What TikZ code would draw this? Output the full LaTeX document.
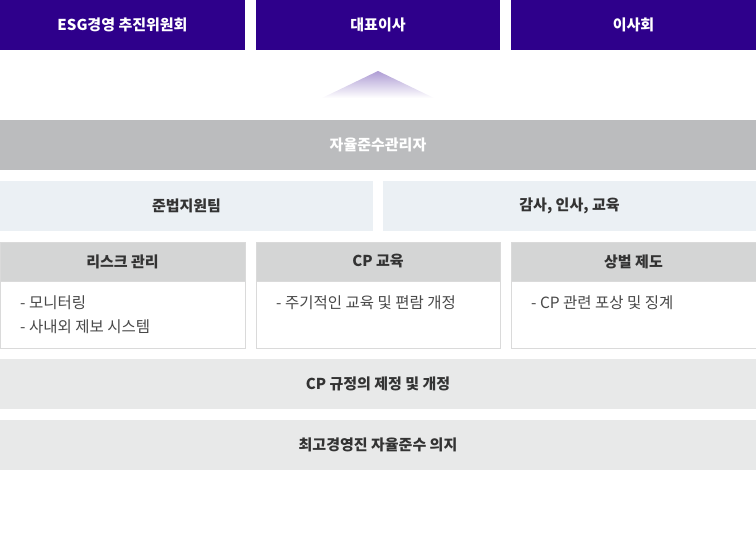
\documentclass[tikz,border=0pt]{standalone}
\usepackage{fontspec}
\setmainfont{Noto Sans CJK KR}
\usepackage{tikz}
\usetikzlibrary{positioning}
\definecolor{esgpurple}{HTML}{2E008B}
\definecolor{tripurple}{HTML}{6F50B3}
\definecolor{mgrgray}{HTML}{BBBCBE}
\definecolor{teamblue}{HTML}{EBF0F4}
\definecolor{headgray}{HTML}{D4D5D5}
\definecolor{bargray}{HTML}{E8E9E9}
\definecolor{linegray}{HTML}{DADADA}
\definecolor{txtdark}{HTML}{333333}
\definecolor{txtgray}{HTML}{484848}
\tikzset{
  box/.style = {rectangle, inner sep=0pt, outer sep=0pt, minimum height=50pt, font=\bfseries\fontsize{15}{17}\selectfont},
  topbox/.style = {box, fill=esgpurple, text=white},
  mainbar/.style = {box, fill=mgrgray, text=white, minimum width=756pt},
  teambox/.style = {box, fill=teamblue, text=txtdark, minimum width=373pt},
  headbox/.style = {box, fill=headgray, draw=linegray, text=txtdark, minimum width=245pt, minimum height=39pt},
  bodybox/.style = {rectangle, inner sep=0pt, outer sep=0pt, fill=white, draw=linegray, minimum height=67pt},
  item/.style = {inner sep=0pt, anchor=base west, text=txtgray, font=\fontsize{15.5}{17}\selectfont},
  basebar/.style = {box, fill=bargray, text=txtdark, minimum width=756pt}
}

\begin{document}
\begin{tikzpicture}[x=1pt, y=1pt, node distance=11pt]
    \useasboundingbox (0,0) rectangle (756,-541);

    % Top: governance bodies
    \node[topbox, minimum width=245pt, anchor=north west] (esg) at (0,0) {ESG경영 추진위원회};
    \node[topbox, minimum width=244pt, right=11pt of esg] (ceo) {대표이사};
    \node[topbox, minimum width=245pt, right=11pt of ceo] (board) {이사회};

    % Pointer up
    \shade[top color=tripurple, bottom color=white] (ceo.south) ++(0,-21) -- ++(56,-27) -- ++(-112,0) -- cycle;

    % Compliance manager and teams
    \node[mainbar, anchor=north west] (cpo) at (0,-120) {자율준수관리자};
    \node[teambox, below=11pt of cpo.south west, anchor=north west] (law) {준법지원팀};
    \node[teambox, right=10pt of law] (audit) {감사, 인사, 교육};

    % Three programs
    \node[headbox, below=11pt of law.south west, anchor=north west] (riskhead) {리스크 관리};
    \node[bodybox, minimum width=245pt, below=0pt of riskhead] (riskbody) {};
    \node[headbox, minimum width=244pt, right=11pt of riskhead] (eduhead) {CP 교육};
    \node[bodybox, minimum width=244pt, below=0pt of eduhead] (edubody) {};
    \node[headbox, right=11pt of eduhead] (rewardhead) {상벌 제도};
    \node[bodybox, minimum width=245pt, below=0pt of rewardhead] (rewardbody) {};

    \node[item] (risk1) at ([xshift=20pt, yshift=-27pt]riskbody.north west) {- 모니터링};
    \node[item] (risk2) at ([yshift=-24pt]risk1.base west) {- 사내외 제보 시스템};
    \node[item] (edu1) at ([xshift=20pt, yshift=-27pt]edubody.north west) {- 주기적인 교육 및 편람 개정};
    \node[item] (reward1) at ([xshift=20pt, yshift=-27pt]rewardbody.north west) {- CP 관련 포상 및 징계};

    % Base
    \node[basebar, below=11pt of riskbody.south west, anchor=north west] (rules) {CP 규정의 제정 및 개정};
    \node[basebar, below=11pt of rules] (will) {최고경영진 자율준수 의지};

\end{tikzpicture}
\end{document}
